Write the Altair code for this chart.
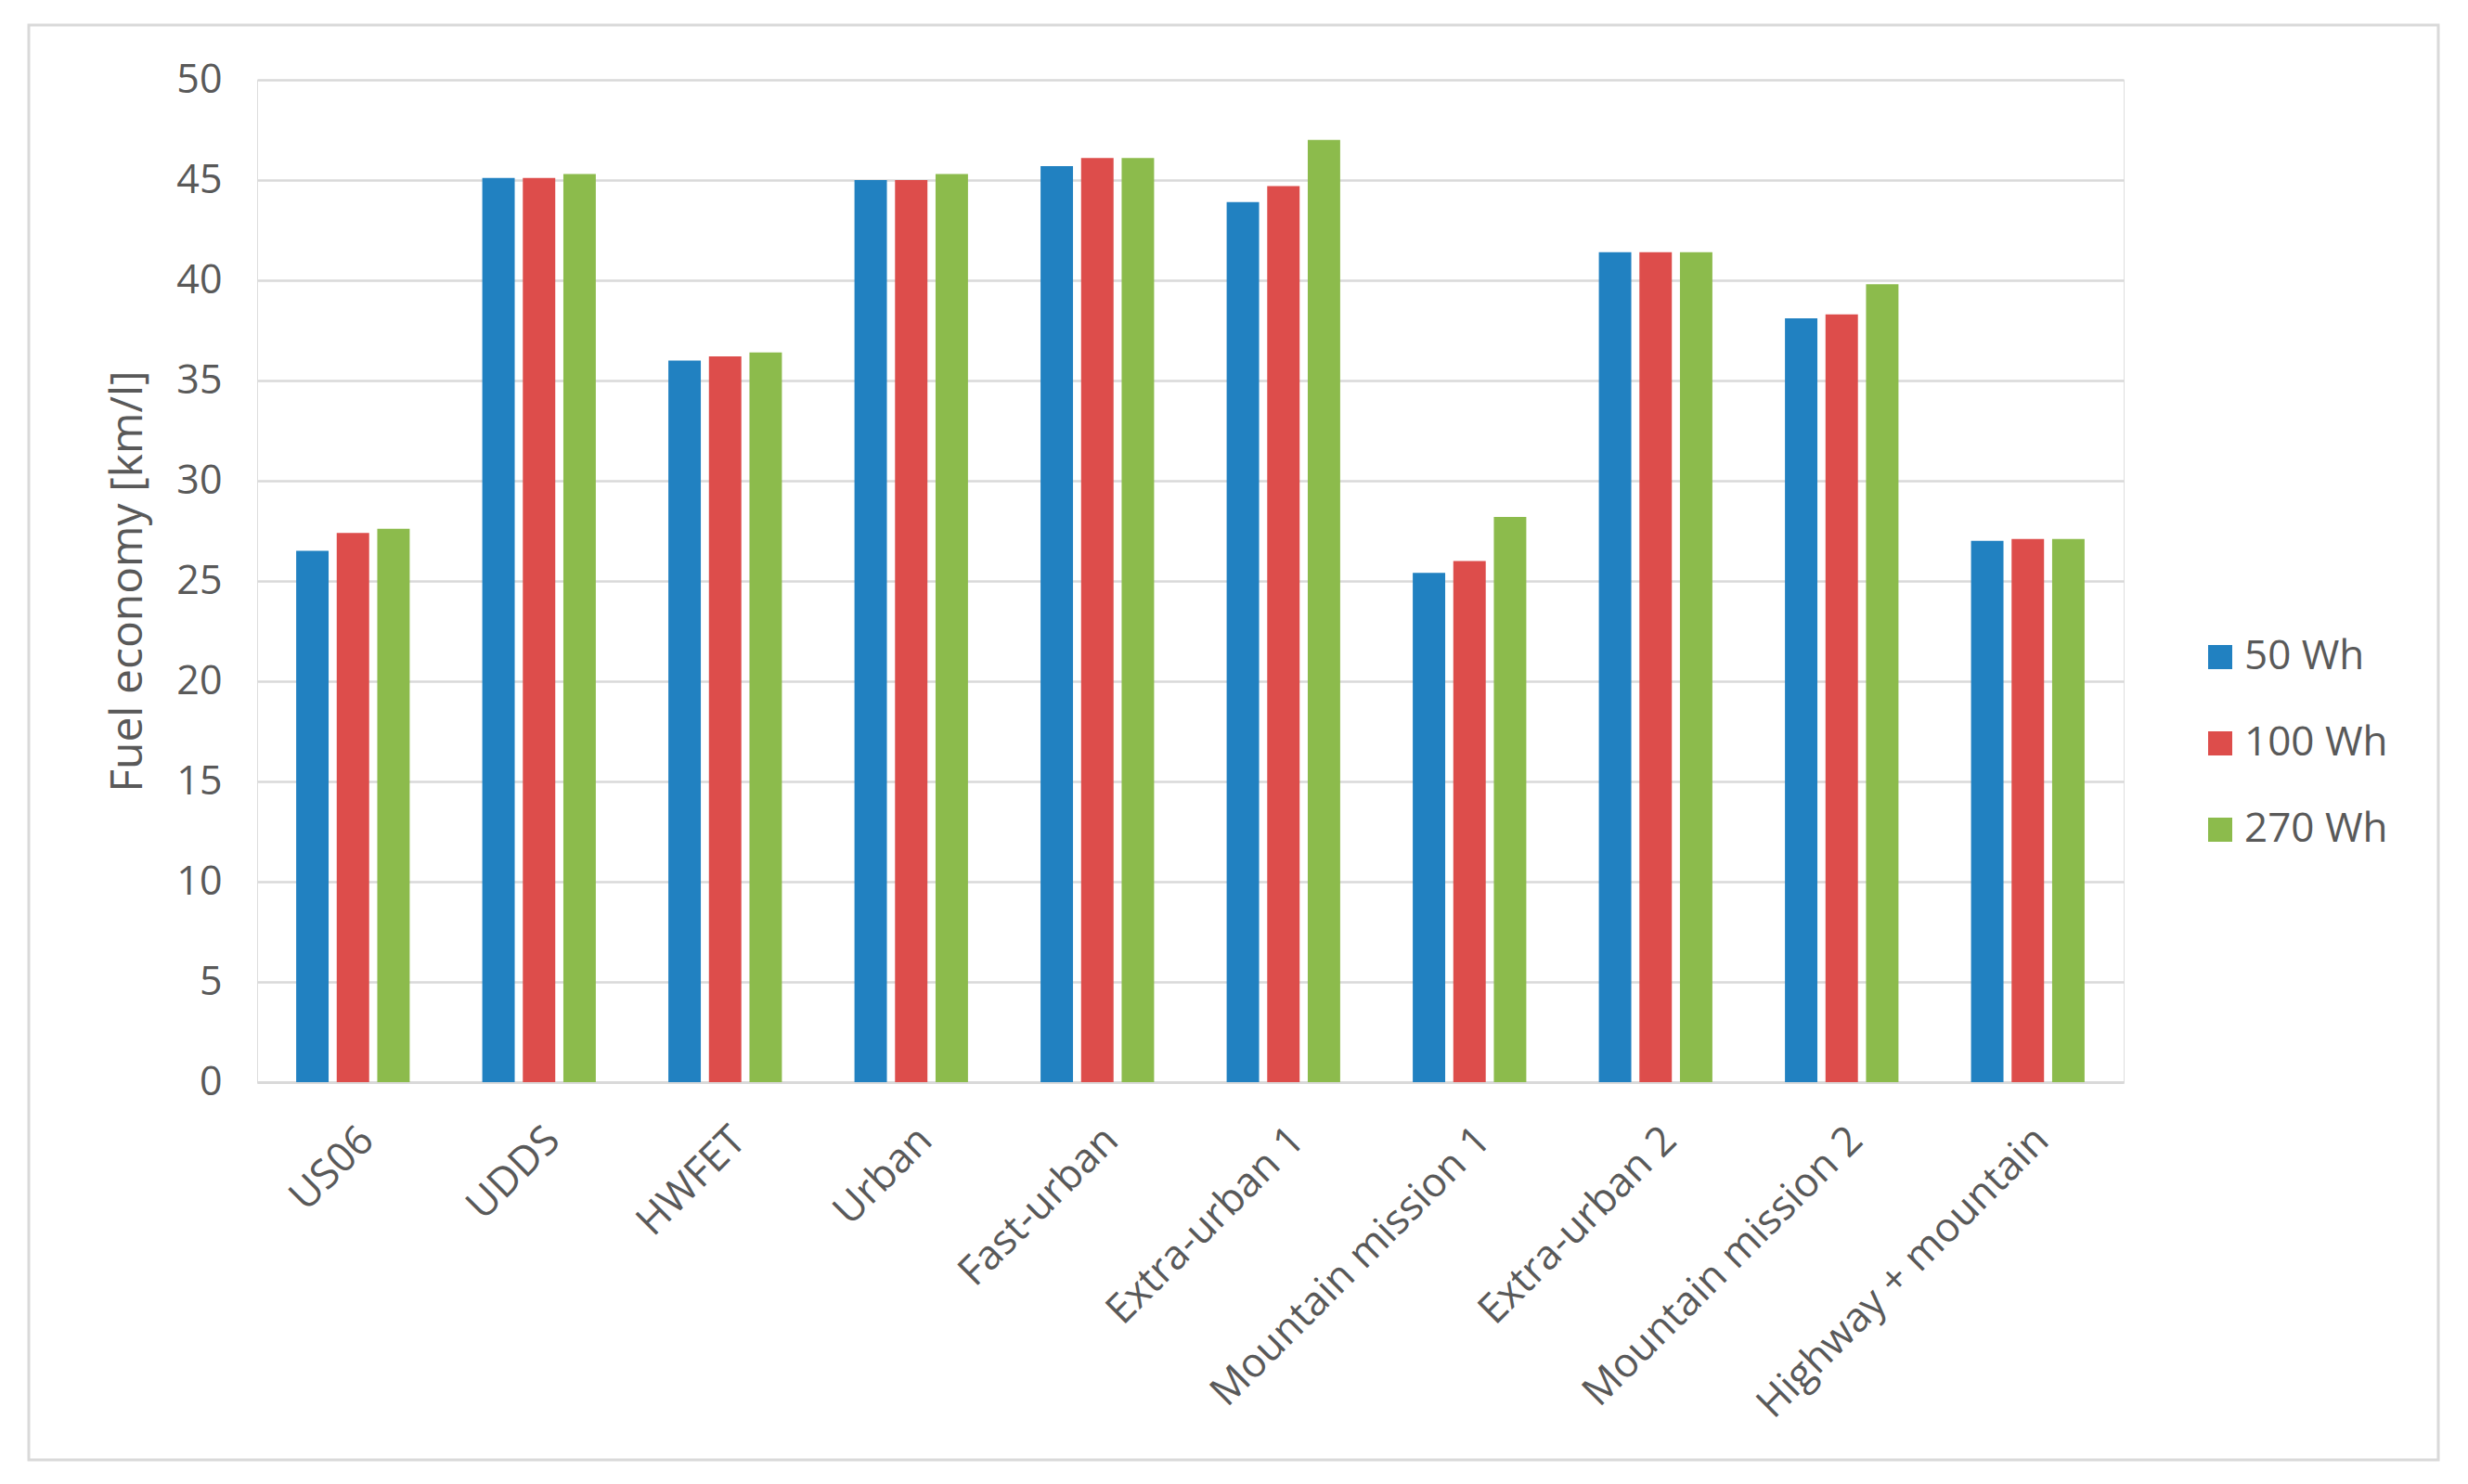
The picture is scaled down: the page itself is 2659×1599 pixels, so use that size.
import altair as alt
import pandas as pd

cycles = ["US06", "UDDS", "HWFET", "Urban", "Fast-urban", "Extra-urban 1",
          "Mountain mission 1", "Extra-urban 2", "Mountain mission 2", "Highway + mountain"]
capacities = ["50 Wh", "100 Wh", "270 Wh"]
fe_50 = [26.5, 45.1, 36.0, 45.0, 45.7, 43.9, 25.4, 41.4, 38.1, 27.0]
fe_100 = [27.4, 45.1, 36.2, 45.0, 46.1, 44.7, 26.0, 41.4, 38.3, 27.1]
fe_270 = [27.6, 45.3, 36.4, 45.3, 46.1, 47.0, 28.2, 41.4, 39.8, 27.1]
colors = ["#2181C1", "#DD4D4B", "#8CBB4C"]

rows = []
for cap, vals in zip(capacities, [fe_50, fe_100, fe_270]):
    for c, v in zip(cycles, vals):
        rows.append({"cycle": c, "cap": cap, "fe": v})
df = pd.DataFrame(rows)

FONT = "Open Sans"
GREY = "#595959"

bars = alt.Chart(df).mark_bar().encode(
    x=alt.X("cycle:N", sort=cycles, title=None,
            scale=alt.Scale(paddingInner=0.39, paddingOuter=0.21),
            axis=alt.Axis(labelAngle=-45, labelFontSize=44, labelColor=GREY,
                          labelFont=FONT, labelPadding=40, labelLimit=0,
                          ticks=False, domainColor="#d9d9d9", domainWidth=3,
                          grid=False)),
    xOffset=alt.XOffset("cap:N", sort=capacities, scale=alt.Scale(paddingInner=0.2)),
    y=alt.Y("fe:Q", title="Fuel economy [km/l]",
            scale=alt.Scale(domain=[0, 50], nice=False),
            axis=alt.Axis(values=list(range(0, 51, 5)), labelFontSize=43,
                          labelColor=GREY, labelFont=FONT, labelPadding=38,
                          ticks=False, domain=False, gridColor="#d9d9d9",
                          gridWidth=2.5, titleFontSize=48, titleColor=GREY,
                          titleFont=FONT, titleFontWeight="normal",
                          titleX=-139, titleY=540, titleAngle=-90,
                          titleBaseline="middle", titleAlign="center")),
    color=alt.Color("cap:N", sort=capacities,
                    scale=alt.Scale(domain=capacities, range=colors),
                    legend=alt.Legend(title=None, orient="none", legendX=2093,
                                      legendY=600, symbolType="square",
                                      symbolSize=676, symbolStrokeWidth=0,
                                      labelFontSize=44, labelColor=GREY,
                                      labelFont=FONT, labelOffset=4,
                                      rowPadding=49, padding=0)),
)

frame = alt.Chart(pd.DataFrame({"k": [0]})).mark_rect(
    fill=None, stroke="#d9d9d9", strokeWidth=3
).encode(
    x=alt.value(-246), x2=alt.value(2350), y=alt.value(-59), y2=alt.value(1487)
)

chart = alt.layer(frame, bars).properties(
    width=2011, height=1080,
    autosize=alt.AutoSizeParams(type="none"),
    padding={"left": 269, "top": 78, "right": 355, "bottom": 420},
).configure_view(stroke=None).configure(background="white")

chart.save("out.html", embed_options={"renderer": "svg", "actions": False})
